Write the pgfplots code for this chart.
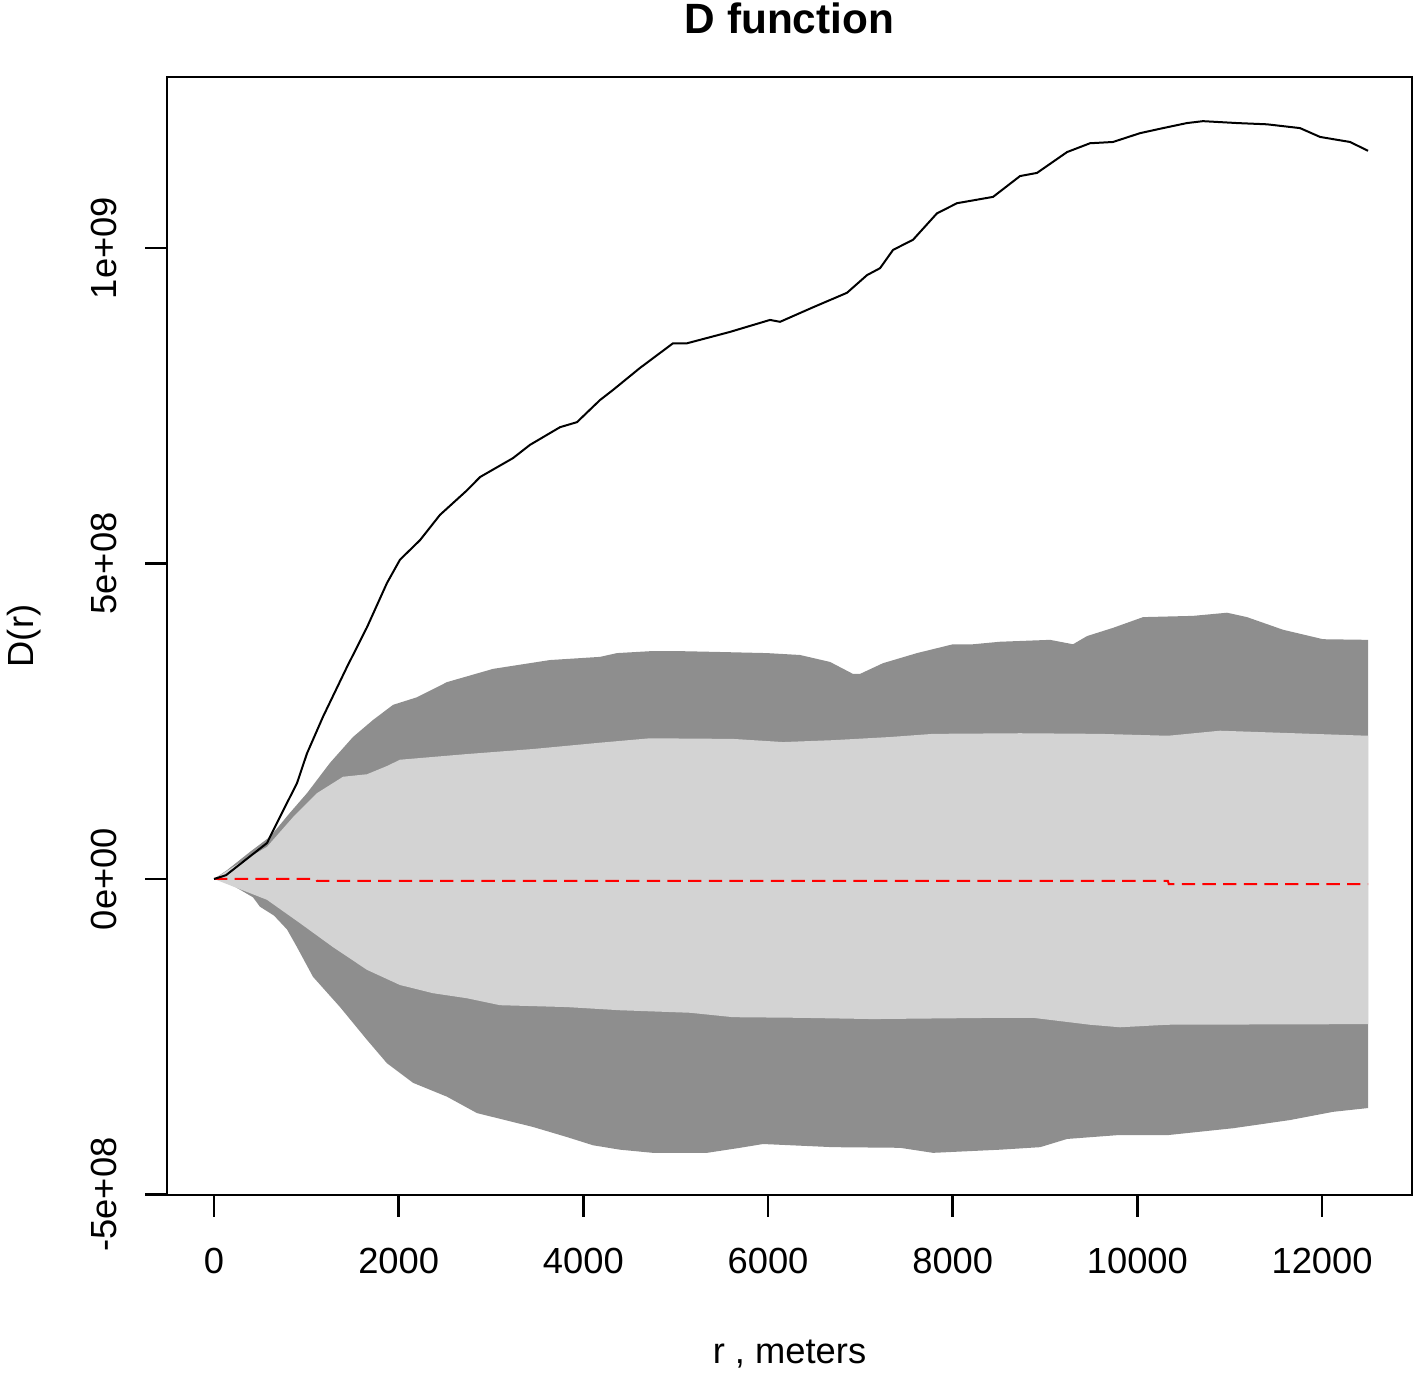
\documentclass[border=0pt]{standalone}
\usepackage{fontspec}
\setmainfont{Liberation Sans}
\usepackage{pgfplots}
\pgfplotsset{compat=1.18}
\usepgfplotslibrary{fillbetween}
\definecolor{darkband}{HTML}{8E8E8E}
\definecolor{lightband}{HTML}{D3D3D3}
\begin{document}
\begin{tikzpicture}
\begin{axis}[
  at={(0,0)}, anchor=south west,
  scale only axis,
  width=373.5pt, height=335.4pt,
  xmin=-509, xmax=12974,
  ymin=-5.008e8, ymax=12.71e8,
  axis line style={line width=0.75pt},
  every tick/.style={black, line width=0.75pt},
  tick align=outside,
  major tick length=6.5pt,
  xtick pos=left, ytick pos=left,
  xtick={0,2000,4000,6000,8000,10000,12000},
  xticklabels={0,2000,4000,6000,8000,10000,12000},
  ytick={-5e8,0,5e8,1e9},
  yticklabels={-5e+08,0e+00,5e+08,1e+09},
  scaled x ticks=false, scaled y ticks=false,
  /pgf/number format/assume math mode=true,
  tick label style={font=\fontsize{10.9}{12}\selectfont},
  xticklabel style={anchor=base},
  yticklabel style={rotate=90, anchor=base},
  xticklabel shift=17pt,
  yticklabel shift=8.6pt,
  title={D function},
  title style={at={(axis description cs:0.5,1)}, anchor=base, yshift=6.9pt,
    font=\fontsize{12.7}{14}\selectfont\bfseries},
  xlabel={r , meters},
  xlabel style={at={(axis description cs:0.5,0)}, anchor=base, yshift=-50.4pt,
    font=\fontsize{10.9}{12}\selectfont},
  ylabel={D(r)},
  ylabel style={at={(axis description cs:-0.1076,0.5)}, anchor=base, rotate=0,
    font=\fontsize{10.9}{12}\selectfont},
]
% outer envelope (dark)
\addplot[name path=hi, draw=none] coordinates {
(0,0) (141,0.14e8) (390,0.43e8) (607,0.67e8) (823,1.05e8) (1007,1.36e8)
(1256,1.84e8) (1505,2.25e8) (1722,2.52e8) (1939,2.76e8) (2198,2.88e8)
(2523,3.12e8) (3022,3.33e8) (3639,3.47e8) (4180,3.52e8) (4364,3.58e8)
(4722,3.61e8) (5079,3.61e8) (5404,3.60e8) (5989,3.58e8) (6346,3.55e8)
(6671,3.44e8) (6920,3.25e8) (6996,3.25e8) (7245,3.42e8) (7613,3.58e8)
(8003,3.72e8) (8220,3.72e8) (8512,3.76e8) (9054,3.79e8) (9303,3.72e8)
(9455,3.85e8) (9736,3.98e8) (10061,4.15e8) (10603,4.17e8) (10971,4.22e8)
(11187,4.15e8) (11577,3.95e8) (12010,3.80e8) (12498,3.79e8)};
\addplot[name path=lo, draw=none] coordinates {
(0,0) (141,-0.05e8) (422,-0.29e8) (498,-0.44e8) (650,-0.58e8) (791,-0.80e8) (899,-1.08e8)
(1072,-1.55e8) (1365,-2.03e8) (1657,-2.55e8) (1873,-2.92e8) (2155,-3.23e8)
(2523,-3.45e8) (2848,-3.71e8) (3455,-3.93e8) (3823,-4.09e8) (4105,-4.22e8)
(4397,-4.29e8) (4754,-4.34e8) (5339,-4.34e8) (5697,-4.26e8) (5946,-4.20e8)
(6704,-4.25e8) (7429,-4.26e8) (7787,-4.34e8) (8512,-4.29e8) (8946,-4.25e8)
(9238,-4.12e8) (9779,-4.06e8) (10321,-4.06e8) (11036,-3.95e8) (11653,-3.82e8)
(12119,-3.69e8) (12498,-3.63e8)};
\addplot[fill=darkband, draw=none] fill between[of=hi and lo];
% inner envelope (light)
\addplot[name path=hii, draw=none] coordinates {
(0,0) (206,0.19e8) (574,0.51e8) (856,0.98e8) (1115,1.36e8) (1397,1.62e8)
(1657,1.66e8) (1873,1.79e8) (2014,1.89e8) (2740,1.98e8) (3455,2.06e8)
(4180,2.16e8) (4722,2.23e8) (5621,2.22e8) (6162,2.17e8) (6704,2.20e8)
(7321,2.25e8) (7787,2.30e8) (8729,2.31e8) (9595,2.30e8) (10332,2.27e8)
(10895,2.35e8) (12498,2.27e8)};
\addplot[name path=loi, draw=none] coordinates {
(0,0) (574,-0.33e8) (931,-0.70e8) (1289,-1.08e8) (1657,-1.44e8) (2014,-1.68e8)
(2372,-1.81e8) (2740,-1.89e8) (3097,-2.00e8) (3823,-2.03e8) (4397,-2.08e8)
(5155,-2.12e8) (5621,-2.19e8) (6346,-2.20e8) (7137,-2.22e8) (8512,-2.20e8)
(8870,-2.20e8) (9487,-2.31e8) (9812,-2.35e8) (10321,-2.31e8) (12498,-2.30e8)};
\addplot[fill=lightband, draw=none] fill between[of=hii and loi];
% theoretical (red dashed)
\addplot[red, line width=0.6pt, dash pattern=on 4pt off 2.2pt] coordinates {
(0,0) (1105,0) (1115,-0.03e8) (10330,-0.03e8) (10340,-0.08e8) (12498,-0.08e8)};
% observed
\addplot[black, line width=0.6pt] coordinates {
(0,0) (130,0.06e8) (574,0.57e8) (682,0.89e8) (899,1.52e8) (1007,1.99e8)
(1180,2.57e8) (1440,3.36e8) (1657,3.99e8) (1873,4.69e8) (2014,5.06e8)
(2231,5.37e8) (2447,5.77e8) (2740,6.16e8) (2881,6.37e8) (3238,6.67e8)
(3422,6.88e8) (3747,7.16e8) (3931,7.24e8) (4180,7.59e8) (4321,7.75e8)
(4614,8.10e8) (4971,8.49e8) (5123,8.49e8) (5588,8.67e8) (6021,8.86e8)
(6130,8.83e8) (6487,9.06e8) (6855,9.29e8) (7072,9.57e8) (7213,9.68e8)
(7354,9.97e8) (7570,10.13e8) (7830,10.55e8) (8047,10.71e8) (8437,10.81e8)
(8729,11.14e8) (8913,11.19e8) (9238,11.52e8) (9487,11.66e8) (9736,11.68e8)
(10029,11.82e8) (10278,11.90e8) (10537,11.98e8) (10711,12.01e8) (11079,11.98e8)
(11404,11.96e8) (11761,11.90e8) (11978,11.76e8) (12303,11.68e8) (12498,11.54e8)};
\end{axis}
\pgfresetboundingbox
\path[use as bounding box] (-50.1pt,-53.1pt) rectangle (374.7pt,358.5pt);
\end{tikzpicture}
\end{document}
